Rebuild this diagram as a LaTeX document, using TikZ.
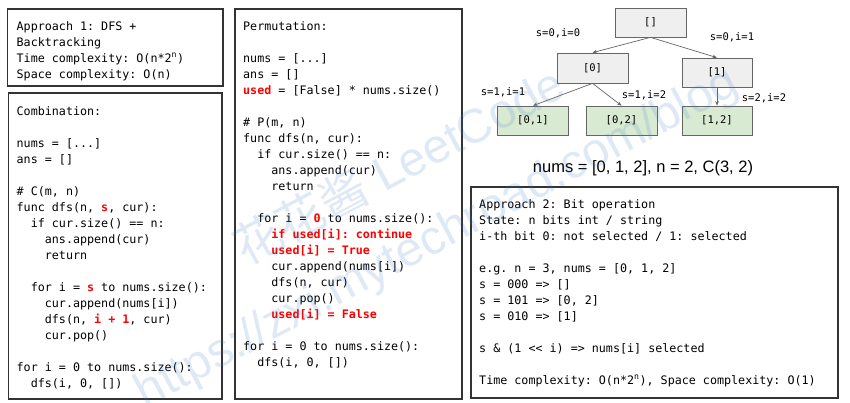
\documentclass[tikz,border=0pt]{standalone}
\usepackage{fontspec}
\setmonofont{DejaVu Sans Mono}
\newfontfamily\capfont{Liberation Sans}
\newfontfamily\cjkfont{Noto Sans CJK SC}
\usetikzlibrary{arrows.meta}
\definecolor{codered}{HTML}{FF0000}
\definecolor{boxline}{HTML}{333333}
\definecolor{nodegray}{HTML}{EFEFEF}
\definecolor{nodegreen}{HTML}{D9EAD3}
\definecolor{edgegray}{HTML}{666666}
\definecolor{wmblue}{HTML}{3D7CC9}
\newcommand{\hl}[1]{\textcolor{codered}{\bfseries #1}}
\newcommand{\tabA}{\hphantom{xx}}
\newcommand{\tabB}{\hphantom{xxxx}}
\newcommand{\supn}{\textsuperscript{n}}
\begin{document}
\begin{tikzpicture}[x=1pt,y=-1pt,
  panel/.style={draw=boxline, line width=1.1pt},
  code/.style={anchor=north west, inner sep=0pt, align=left,
    font=\ttfamily\fontsize{11.7}{16}\selectfont\frenchspacing},
  treebox/.style={draw=edgegray, line width=0.7pt, minimum width=71pt,
    minimum height=29pt, inner sep=0pt,
    font=\ttfamily\fontsize{10.5}{12}\selectfont},
  graybox/.style={treebox, fill=nodegray},
  greenbox/.style={treebox, fill=nodegreen},
  edgelabel/.style={inner sep=0pt, font=\ttfamily\fontsize{10.5}{12}\selectfont},
  tedge/.style={draw=edgegray, line width=0.7pt, -{Stealth[length=4.5pt,width=3.5pt]}}
]
\fill[white] (0,0) rectangle (850,402);
\useasboundingbox (0,0) rectangle (850,402);

% panels
\draw[panel] (7.5,9) rectangle (223,86);
\draw[panel] (8.5,93) rectangle (222,399);
\draw[panel] (235,9) rectangle (462,399);
\draw[panel] (471,187) rectangle (838,398);

% approach 1
\node[code] (a1) at (16.5,18.8) {\strut Approach 1: DFS +\\
Backtracking\\
Time complexity: O(n*2\supn)\\
Space complexity: O(n)};

% combination
\node[code] (comb) at (16.5,103.8) {\strut Combination:\\
\\
nums = [...]\\
ans = []\\
\\
\# C(m, n)\\
func dfs(n, \hl{s}, cur):\\
\tabA if cur.size() == n:\\
\tabB ans.append(cur)\\
\tabB return\\
\\
\tabA for i = \hl{s} to nums.size():\\
\tabB cur.append(nums[i])\\
\tabB dfs(n, \hl{i + 1}, cur)\\
\tabB cur.pop()\\
\\
for i = 0 to nums.size():\\
\tabA dfs(i, 0, [])};

% permutation
\node[code] (perm) at (243,18.8) {\strut Permutation:\\
\\
nums = [...]\\
ans = []\\
\hl{used} = [False] * nums.size()\\
\\
\# P(m, n)\\
func dfs(n, cur):\\
\tabA if cur.size() == n:\\
\tabB ans.append(cur)\\
\tabB return\\
\\
\tabA for i = \hl{0} to nums.size():\\
\tabB \hl{if used[i]: continue}\\
\tabB \hl{used[i] = True}\\
\tabB cur.append(nums[i])\\
\tabB dfs(n, cur)\\
\tabB cur.pop()\\
\tabB \hl{used[i] = False}\\
\\
for i = 0 to nums.size():\\
\tabA dfs(i, 0, [])};

% approach 2
\node[code] (bits) at (479,196.8) {\strut Approach 2: Bit operation\\
State: n bits int / string\\
i-th bit 0: not selected / 1: selected\\
\\
e.g. n = 3, nums = [0, 1, 2]\\
s = 000 => []\\
s = 101 => [0, 2]\\
s = 010 => [1]\\
\\
s \& (1 << i) => nums[i] selected\\
\\
Time complexity: O(n*2\supn), Space complexity: O(1)};

% tree
\node[graybox] (root) at (650.5,22.5) {[]};
\node[graybox, minimum height=30pt] (n0) at (592.5,68) {[0]};
\node[graybox, minimum width=70pt] (n1) at (717,72.5) {[1]};
\node[greenbox] (n01) at (533,120.5) {[0,1]};
\node[greenbox] (n02) at (621.5,120.5) {[0,2]};
\node[greenbox, minimum width=70pt] (n12) at (717,120.5) {[1,2]};

\draw[tedge] (root.south) -- (n0.north);
\draw[tedge] (root.south) -- (n1.north);
\draw[tedge] (n0.south) -- (n01.north);
\draw[tedge] (n0.south) -- (n02.north);
\draw[tedge] (n1.south) -- (n12.north);

\node[edgelabel] (l1) at (558,33) {s=0,i=0};
\node[edgelabel] (l2) at (732,37) {s=0,i=1};
\node[edgelabel] (l3) at (503,92) {s=1,i=1};
\node[edgelabel] (l4) at (644,95) {s=1,i=2};
\node[edgelabel] (l5) at (764,98) {s=2,i=2};

\node[inner sep=0pt, anchor=base, font=\capfont\fontsize{16.5}{20}\selectfont]
  (cap) at (643,172) {nums = [0, 1, 2], n = 2, C(3, 2)};

% watermark
\node[rotate=28, align=center, text=wmblue, text opacity=0.16,
  font=\capfont\fontsize{48}{78}\selectfont] (wm) at (418,202)
  {{\cjkfont 花花酱} LeetCode\\https://zxi.mytechroad.com/blog};
\end{tikzpicture}
\end{document}
